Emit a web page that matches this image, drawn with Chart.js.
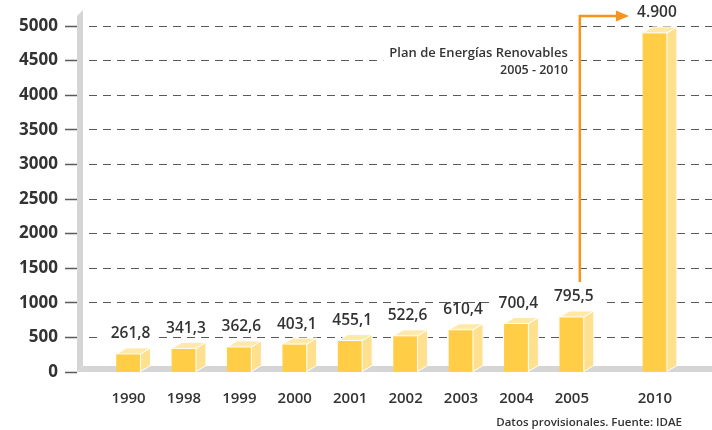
<!DOCTYPE html>
<html>
<head>
<meta charset="utf-8">
<script src="https://cdn.jsdelivr.net/npm/chart.js@4.4.1/dist/chart.umd.min.js"></script>
<style>
  html, body { margin:0; padding:0; background:#fff; }
  #wrap { width:712px; height:430px; position:relative; }
</style>
</head>
<body>
<div id="wrap"><canvas id="chart"></canvas></div>
<script>
/********************
 * Data
 ********************/
const years = ["1990","1998","1999","2000","2001","2002","2003","2004","2005","2010"];
const capacity = [261.8, 341.3, 362.6, 403.1, 455.1, 522.6, 610.4, 700.4, 795.5, 4900];
const valueLabels = ["261,8","341,3","362,6","403,1","455,1","522,6","610,4","700,4","795,5","4.900"];
const yTicks = [0, 500, 1000, 1500, 2000, 2500, 3000, 3500, 4000, 4500, 5000];

const planTitle = "Plan de Energías Renovables";
const planYears = "2005 - 2010";
const sourceNote = "Datos provisionales. Fuente: IDAE";

/********************
 * Look
 ********************/
const FONT = '"Open Sans", sans-serif';
const TEXT = "#333333";
const FRONT = "#ffcd46";
const SIDE = "#ffe08f";
const TOP = "#ffe8a8";
const GREY = "#d5d5d5";
const ORANGE = "#f7941d";
const DX = 10, DY = 6;
const GAP_BEFORE_LAST = 0.5;   // 2010 sits a half slot further out

function slot(i){
  return i + (i === years.length - 1 ? GAP_BEFORE_LAST : 0);
}

const points = capacity.map((v, i) => ({ x: slot(i), y: v }));

/********************
 * 3D floor, wall and bar faces
 ********************/
const solidPlugin = {
  id: "solid",
  beforeDatasetsDraw(chart){
    const { ctx, chartArea: a } = chart;
    ctx.save();
    ctx.fillStyle = GREY;
    // wall
    ctx.beginPath();
    ctx.moveTo(a.left, a.top - 10);
    ctx.lineTo(a.left + 6, a.top - 16);
    ctx.lineTo(a.left + 6, a.bottom - DY);
    ctx.lineTo(a.left, a.bottom);
    ctx.closePath();
    ctx.fill();
    // floor
    ctx.beginPath();
    ctx.moveTo(a.left, a.bottom);
    ctx.lineTo(a.left + 6, a.bottom - DY);
    ctx.lineTo(a.right, a.bottom - DY);
    ctx.lineTo(a.right, a.bottom);
    ctx.closePath();
    ctx.fill();
    ctx.restore();
  },
  afterDatasetsDraw(chart){
    const ctx = chart.ctx;
    const meta = chart.getDatasetMeta(0);
    ctx.save();
    ctx.strokeStyle = "#fff";
    ctx.lineWidth = 1;
    ctx.lineJoin = "round";
    meta.data.forEach(bar => {
      const { x, y, base, width } = bar.getProps(["x","y","base","width"], true);
      const l = x - width / 2, r = x + width / 2;
      // side face
      ctx.fillStyle = SIDE;
      ctx.beginPath();
      ctx.moveTo(r, y);
      ctx.lineTo(r + DX, y - DY);
      ctx.lineTo(r + DX, base - DY);
      ctx.lineTo(r, base);
      ctx.closePath();
      ctx.fill();
      ctx.stroke();
      // top face
      ctx.fillStyle = TOP;
      ctx.beginPath();
      ctx.moveTo(l, y);
      ctx.lineTo(l + DX, y - DY);
      ctx.lineTo(r + DX, y - DY);
      ctx.lineTo(r, y);
      ctx.closePath();
      ctx.fill();
      ctx.stroke();
    });
    ctx.restore();
  }
};

/********************
 * Value labels, plan arrow, source note
 ********************/
const notesPlugin = {
  id: "notes",
  afterDatasetsDraw(chart){
    const ctx = chart.ctx;
    const meta = chart.getDatasetMeta(0);
    ctx.save();
    ctx.font = `600 15.5px ${FONT}`;
    ctx.textAlign = "center";
    ctx.textBaseline = "middle";

    const labelPos = meta.data.map(bar => {
      const { x, y } = bar.getProps(["x","y"], true);
      return { x: x + 2, y: y - DY - 14 };
    });

    labelPos.forEach((p, i) => {
      const w = ctx.measureText(valueLabels[i]).width;
      if(i < years.length - 1){
        ctx.fillStyle = "#fff";
        ctx.fillRect(p.x - w / 2 - 8, p.y - 6, w + 16, 12);
      }
      ctx.fillStyle = TEXT;
      ctx.fillText(valueLabels[i], p.x, p.y);
    });

    // arrow from 2005 to 2010
    const from = meta.data[years.length - 2];
    const to = meta.data[years.length - 1];
    const ax = from.x + 8;
    const ay = labelPos[years.length - 1].y + 3;
    const y0 = labelPos[years.length - 2].y - 15;
    const tipX = to.x - to.width / 2 - 14;

    // plan text (masked)
    ctx.textAlign = "right";
    ctx.font = `600 13px ${FONT}`;
    const tw = ctx.measureText(planTitle).width;
    ctx.fillStyle = "#fff";
    ctx.fillRect(ax - 12 - tw - 6, ay + 28, tw + 8, 36);
    ctx.fillStyle = TEXT;
    ctx.fillText(planTitle, ax - 12, ay + 37);
    ctx.font = `600 12.5px ${FONT}`;
    ctx.fillText(planYears, ax - 12, ay + 55);

    ctx.strokeStyle = ORANGE;
    ctx.fillStyle = ORANGE;
    ctx.lineWidth = 2.5;
    ctx.beginPath();
    ctx.moveTo(ax, y0);
    ctx.lineTo(ax, ay);
    ctx.lineTo(tipX - 10, ay);
    ctx.stroke();
    ctx.beginPath();
    ctx.moveTo(tipX, ay);
    ctx.lineTo(tipX - 13, ay - 5.5);
    ctx.lineTo(tipX - 13, ay + 5.5);
    ctx.closePath();
    ctx.fill();

    // source note
    ctx.font = `600 11.5px ${FONT}`;
    ctx.fillStyle = TEXT;
    ctx.textAlign = "right";
    ctx.fillText(sourceNote, chart.width - 30, chart.height - 7);
    ctx.restore();
  }
};

/********************
 * Chart
 ********************/
const ctx = document.getElementById("chart").getContext("2d");
new Chart(ctx, {
  type: "bar",
  data: {
    datasets: [{
      data: points,
      backgroundColor: FRONT,
      borderWidth: 0,
      barThickness: 24
    }]
  },
  options: {
    responsive: true,
    maintainAspectRatio: false,
    animation: false,
    layout: { padding: { top: 26, right: 0, bottom: 0, left: 0 } },
    plugins: { legend: { display: false }, tooltip: { enabled: false } },
    scales: {
      x: {
        type: "linear",
        offset: false,
        min: -0.93,
        max: 10.53,
        afterBuildTicks: axis => { axis.ticks = years.map((_, i) => ({ value: slot(i) })); },
        afterFit: axis => { axis.height = 58; },
        grid: { display: false },
        border: { display: false },
        ticks: {
          autoSkip: false,
          maxRotation: 0,
          padding: 10,
          color: TEXT,
          font: { family: FONT, size: 15, weight: "600" },
          callback: (v, i) => years[i]
        }
      },
      y: {
        min: 0,
        max: 5000,
        afterBuildTicks: axis => { axis.ticks = yTicks.map(v => ({ value: v })); },
        afterFit: axis => { axis.width = 77; },
        grid: {
          color: c => (c.tick && c.tick.value === 0 ? "rgba(0,0,0,0)" : "#5a5a5a"),
          lineWidth: 1,
          tickLength: 12,
          tickColor: "#5a5a5a",
          tickWidth: 1.5,
          tickBorderDash: []
        },
        border: { display: false, dash: [8, 6], dashOffset: 2 },
        ticks: {
          padding: 7,
          color: TEXT,
          font: { family: FONT, size: 17, weight: "700" },
          callback: v => String(v)
        }
      }
    }
  },
  plugins: [solidPlugin, notesPlugin]
});
</script>
</body>
</html>
